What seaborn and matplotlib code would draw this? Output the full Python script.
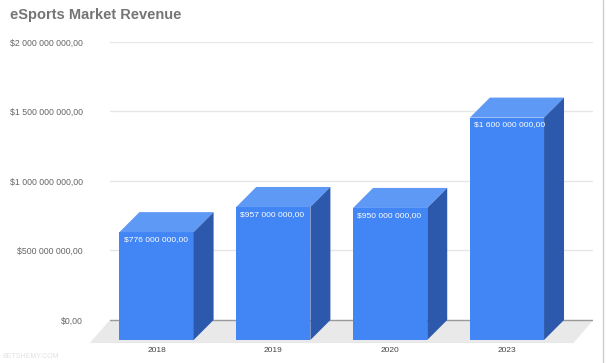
import numpy as np
import pandas as pd
import seaborn as sns
import matplotlib.pyplot as plt
from matplotlib.patches import Polygon
from matplotlib.lines import Line2D

years = ["2018", "2019", "2020", "2023"]
revenue = [776e6, 957e6, 950e6, 1600e6]
ticks = [0, 500e6, 1000e6, 1500e6, 2000e6]

front = "#4285f4"
top = "#5f99f6"
side = "#2c59ab"

sns.set_theme(style="white")
plt.rcParams["font.family"] = ["Liberation Sans", "DejaVu Sans"]

def money(v):
    # european style: $1 600 000 000,00
    s = f"${v:,.2f}"
    return s.replace(",", " ").replace(".", ",")

# 3d depth of the bars (category units, value units)
dx = 0.171
dy = 144e6

fig = plt.figure(figsize=(6.06, 3.63), dpi=100)
ax = fig.add_axes([0.1812, 0.0496, 0.798, 0.8347])

df = pd.DataFrame({"year": years, "revenue": revenue})
sns.barplot(data=df, x="year", y="revenue", color=front, saturation=1,
            width=0.635, ax=ax, zorder=3, linewidth=0)

ax.set_xlim(-0.40, 3.74)
ax.set_ylim(-36e6, 2144e6)

# gridlines sit on the back wall, shifted up by the depth
ax.set_yticks([t + dy for t in ticks])
ax.set_yticklabels([money(t) for t in ticks])
for t in ticks[1:]:
    ax.axhline(t + dy, color="#e6e6e6", lw=1, zorder=0)
ax.axhline(dy, color="#9a9a9a", lw=1, zorder=1)

# floor
x0, x1 = ax.get_xlim()
floor = Polygon([(x0 - dx, -22e6), (x1 - dx, -22e6), (x1, dy), (x0, dy)],
                closed=True, facecolor="#e9e9e9", edgecolor="none",
                zorder=0.5, clip_on=False)
ax.add_patch(floor)

for p, v in zip(ax.patches, revenue):
    bx = p.get_x()
    w = p.get_width()
    h = p.get_height()
    ax.add_patch(Polygon([(bx, h), (bx + w, h), (bx + w + dx, h + dy), (bx + dx, h + dy)],
                         closed=True, facecolor=top, edgecolor="none", zorder=3))
    ax.add_patch(Polygon([(bx + w, 0), (bx + w + dx, dy), (bx + w + dx, h + dy), (bx + w, h)],
                         closed=True, facecolor=side, edgecolor="none", zorder=3))
    ax.annotate(money(v), xy=(bx, h), xytext=(3, -5.2), textcoords="offset points",
                ha="left", va="center", color="white", fontsize=6.1, zorder=4)

ax.set_xlabel("")
ax.set_ylabel("")
ax.tick_params(axis="y", length=0, pad=19.5, labelsize=6.3, labelcolor="#666666")
ax.tick_params(axis="x", length=0, pad=1.5, labelsize=6.0, labelcolor="#444444")
sns.despine(ax=ax, left=True, bottom=True)
ax.grid(False)

fig.text(10 / 606, 1 - 15 / 363, "eSports Market Revenue", fontsize=10.5,
         fontweight="bold", color="#757575", va="center", ha="left")
fig.text(2 / 606, 1 - 357 / 363, "BETSHEMY.COM", fontsize=5, color="#e2e2e2",
         va="center", ha="left")
fig.add_artist(Line2D([603 / 606, 603 / 606], [0, 1], color="#c8cfdb", lw=1,
                      transform=fig.transFigure))

fig.savefig("out.png", dpi=100)
